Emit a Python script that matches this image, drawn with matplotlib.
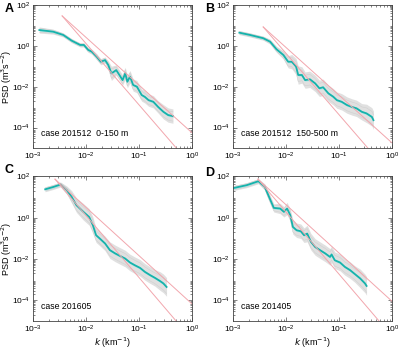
import numpy as np
import matplotlib
matplotlib.use("Agg")
import matplotlib.pyplot as plt
from matplotlib.ticker import LogLocator, NullFormatter

plt.rcParams['font.family'] = ['Liberation Sans', 'DejaVu Sans']

# log10 of k (km^-1) and PSD (m^3 s^-2)
a_logk = [-2.88, -2.62, -2.43, -2.27, -2.11, -2.04, -1.96, -1.89, -1.80, -1.72, -1.64, -1.58, -1.52, -1.43,
          -1.37, -1.31, -1.26, -1.22, -1.17, -1.11, -1.04, -0.95, -0.89, -0.82, -0.73, -0.64, -0.54, -0.45, -0.36]
a_logpsd = [0.77, 0.69, 0.53, 0.25, 0.04, 0.04, -0.20, -0.29, -0.53, -0.78, -0.70, -0.94, -1.35, -1.19,
            -1.43, -1.68, -1.35, -1.76, -1.51, -1.92, -2.00, -2.41, -2.50, -2.66, -2.74, -2.99, -3.23, -3.39, -3.44]
a_spread = [0.15, 0.12, 0.10, 0.10, 0.10, 0.10, 0.12, 0.12, 0.15, 0.15, 0.15, 0.20, 0.35, 0.25,
            0.25, 0.25, 0.30, 0.30, 0.30, 0.30, 0.30, 0.30, 0.30, 0.30, 0.30, 0.30, 0.35, 0.35, 0.35]

b_logk = [-2.88, -2.68, -2.43, -2.30, -2.18, -2.05, -1.96, -1.89, -1.81, -1.77, -1.70, -1.64, -1.55, -1.45,
          -1.37, -1.30, -1.20, -1.11, -1.04, -0.95, -0.85, -0.76, -0.67, -0.57, -0.48, -0.38, -0.35]
b_logpsd = [0.64, 0.53, 0.37, 0.20, -0.17, -0.45, -0.78, -0.78, -1.02, -1.43, -1.43, -1.68, -1.64, -1.84,
            -2.08, -2.03, -2.33, -2.49, -2.66, -2.74, -2.90, -2.99, -3.06, -3.23, -3.31, -3.48, -3.64]
b_spread = [0.10, 0.10, 0.10, 0.12, 0.15, 0.20, 0.30, 0.35, 0.40, 0.45, 0.40, 0.40, 0.40, 0.40,
            0.40, 0.40, 0.40, 0.40, 0.40, 0.40, 0.40, 0.40, 0.40, 0.40, 0.45, 0.45, 0.45]

c_logk = [-2.77, -2.62, -2.48, -2.36, -2.27, -2.18, -2.05, -1.94, -1.87, -1.81, -1.74, -1.64, -1.55,
          -1.45, -1.36, -1.26, -1.17, -1.08, -0.98, -0.89, -0.79, -0.70, -0.60, -0.54, -0.48]
c_logpsd = [1.37, 1.48, 1.60, 1.32, 1.00, 0.60, 0.28, 0.03, -0.37, -0.85, -1.01, -1.25, -1.57,
            -1.73, -1.85, -1.98, -2.17, -2.30, -2.43, -2.62, -2.78, -2.91, -3.07, -3.18, -3.35]
c_spread = [0.12, 0.12, 0.12, 0.20, 0.30, 0.35, 0.40, 0.40, 0.40, 0.35, 0.35, 0.35, 0.40,
            0.40, 0.40, 0.40, 0.40, 0.40, 0.40, 0.40, 0.40, 0.40, 0.45, 0.45, 0.45]

d_logk = [-2.99, -2.74, -2.52, -2.40, -2.32, -2.23, -2.11, -2.04, -1.98, -1.92, -1.87, -1.80, -1.72, -1.66,
          -1.60, -1.53, -1.45, -1.36, -1.26, -1.17, -1.14, -1.08, -0.98, -0.89, -0.79, -0.70, -0.60, -0.51, -0.48]
d_logpsd = [1.43, 1.57, 1.76, 1.48, 1.00, 0.47, 0.44, 0.28, 0.44, 0.12, -0.45, -0.61, -0.66, -0.85,
            -0.77, -1.17, -1.42, -1.57, -1.73, -1.90, -1.78, -2.06, -2.17, -2.38, -2.54, -2.73, -2.94, -3.18, -3.30]
d_spread = [0.12, 0.12, 0.12, 0.15, 0.20, 0.20, 0.25, 0.25, 0.30, 0.30, 0.35, 0.35, 0.35, 0.35,
            0.40, 0.40, 0.40, 0.40, 0.40, 0.40, 0.40, 0.40, 0.40, 0.40, 0.40, 0.40, 0.45, 0.45, 0.45]

# reference slopes start (log10 k, log10 PSD), slopes k^-3 and k^-7/3
ref_start = {'A': (-2.45, 1.46), 'B': (-2.43, 0.92), 'C': (-2.585, 1.86), 'D': (-2.53, 1.86)}
ref_slopes = [-3.0, -7.0 / 3.0]

labels = ['case 201512  0-150 m', 'case 201512  150-500 m', 'case 201605', 'case 201405']

fig = plt.figure(figsize=(4.0, 3.49), dpi=100)
positions = {'A': [0.0825, 0.576, 0.3975, 0.41],
             'B': [0.5825, 0.576, 0.3975, 0.41],
             'C': [0.0825, 0.080, 0.3975, 0.415],
             'D': [0.5825, 0.080, 0.3975, 0.415]}
panels = [('A', a_logk, a_logpsd, a_spread), ('B', b_logk, b_logpsd, b_spread),
          ('C', c_logk, c_logpsd, c_spread), ('D', d_logk, d_logpsd, d_spread)]

cyan = '#17b2ab'
for i, (name, logk, logpsd, spread) in enumerate(panels):
    ax = fig.add_axes(positions[name])
    k = 10 ** np.array(logk)
    psd = 10 ** np.array(logpsd)
    sp = np.array(spread)
    ax.fill_between(k, psd * 10 ** (-sp), psd * 10 ** sp, color='#e0e0e0', lw=0)
    ax.plot(k, psd * 10 ** (sp * 0.6), color='#d0d0d0', lw=0.4)
    ax.plot(k, psd * 10 ** (-sp * 0.7), color='#d0d0d0', lw=0.4)
    ax.fill_between(k, psd * 10 ** -0.06, psd * 10 ** 0.06, color='#b0e6e6', lw=0)
    ax.plot(k, psd, color=cyan, lw=1.3)

    k0, p0 = ref_start[name]
    kk = np.array([10 ** k0, 1.0])
    for s in ref_slopes:
        ax.plot(kk, 10 ** p0 * (kk / 10 ** k0) ** s, color='#f2a6ad', lw=0.7)

    ax.set_xscale('log')
    ax.set_yscale('log')
    ax.set_xlim(1e-3, 1e0)
    ax.set_ylim(1e-5, 1e2)
    ax.set_xticks([1e-3, 1e-2, 1e-1, 1e0])
    ax.set_yticks([1e-4, 1e-2, 1e0, 1e2])
    ax.yaxis.set_minor_locator(LogLocator(base=10, subs=np.arange(2, 10), numticks=20))
    ax.xaxis.set_minor_locator(LogLocator(base=10, subs=np.arange(2, 10), numticks=20))
    ax.xaxis.set_minor_formatter(NullFormatter())
    ax.yaxis.set_minor_formatter(NullFormatter())
    ax.tick_params(which='both', direction='in', top=True, right=True, labelsize=6,
                   color='#555555', width=0.5, pad=2)
    ax.tick_params(which='major', length=3)
    ax.tick_params(which='minor', length=1.5)
    for sp_ in ax.spines.values():
        sp_.set_linewidth(0.6)
        sp_.set_color('#444444')

    ax.text(0.05, 0.10, labels[i], transform=ax.transAxes, fontsize=6.3, va='center')
    if name in ('A', 'C'):
        ax.set_ylabel(r'PSD (m$^3$s$^{-2}$)', fontsize=6.5)
        ax.yaxis.set_label_coords(-0.12, 0.5)
    if name in ('C', 'D'):
        ax.set_xlabel(r'$k$ (km$^{-1}$)', fontsize=6.5)
        ax.xaxis.set_label_coords(0.5, -0.10)

fig.text(0.012, 0.975, 'A', fontsize=9, fontweight='bold', va='center')
fig.text(0.512, 0.975, 'B', fontsize=9, fontweight='bold', va='center')
fig.text(0.012, 0.513, 'C', fontsize=9, fontweight='bold', va='center')
fig.text(0.512, 0.505, 'D', fontsize=9, fontweight='bold', va='center')

fig.savefig('out.png', dpi=100)
